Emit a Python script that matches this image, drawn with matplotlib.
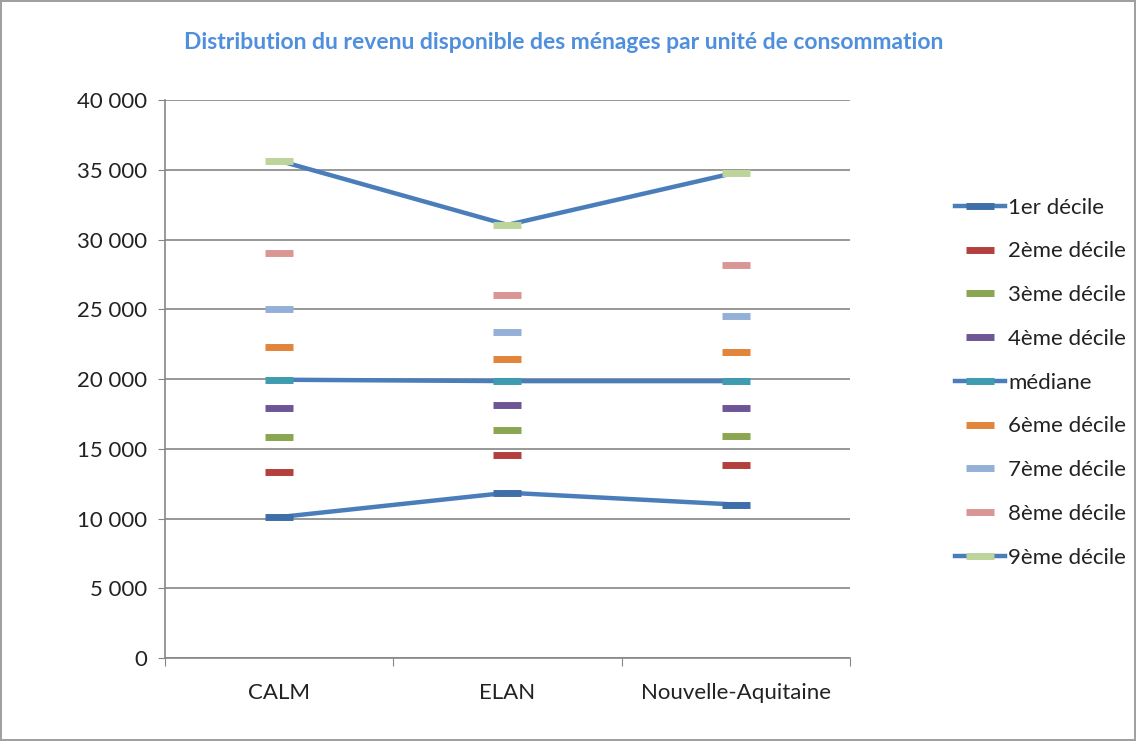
import matplotlib.pyplot as plt
from matplotlib.ticker import FuncFormatter

categories = ["CALM", "ELAN", "Nouvelle-Aquitaine"]
labels = ["1er décile", "2ème décile", "3ème décile", "4ème décile", "médiane",
          "6ème décile", "7ème décile", "8ème décile", "9ème décile"]
d1 = [10100, 11850, 11000]
d2 = [13300, 14550, 13850]
d3 = [15850, 16350, 15950]
d4 = [17950, 18150, 17950]
med = [19950, 19850, 19850]
d6 = [22300, 21450, 21950]
d7 = [25050, 23350, 24500]
d8 = [29000, 26000, 28150]
d9 = [35650, 31050, 34800]
series = [d1, d2, d3, d4, med, d6, d7, d8, d9]
marker_colors = ["#3F6FA8", "#B3403D", "#8AA650", "#6E5696", "#3E9BB0",
                 "#E2843A", "#95B0D8", "#D99694", "#BDD59A"]
with_line = [True, False, False, False, True, False, False, False, True]
line_color = "#4A7EBB"

plt.rcParams['font.family'] = ['Lato', 'DejaVu Sans']

fig = plt.figure(figsize=(11.36, 7.41), dpi=100)
fig.patch.set_edgecolor("#A0A0A0")
fig.patch.set_linewidth(1.5)
ax = fig.add_axes([0.1452, 0.112, 0.603, 0.753])

x = [0.5, 1.5, 2.5]
for vals, lab, mc, ln in zip(series, labels, marker_colors, with_line):
    ax.plot(x, vals, color=line_color if ln else "none", lw=3.2,
            marker="_", markersize=20, markeredgewidth=5,
            markeredgecolor=mc, label=lab, zorder=3)

ax.set_xlim(0, 3)
ax.set_ylim(0, 40000)
ax.set_yticks(range(0, 40001, 5000))
ax.yaxis.set_major_formatter(FuncFormatter(lambda v, p: f"{int(v):,}".replace(",", " ")))
ax.set_xticks([0, 1, 2, 3])
ax.set_xticklabels([])
ax.set_xticks(x, minor=True)
ax.set_xticklabels(categories, minor=True)
ax.tick_params(axis="x", which="minor", length=0, pad=18, labelsize=16, colors="#222222")
ax.tick_params(axis="x", which="major", length=6, color="#868686")
ax.tick_params(axis="y", length=5, color="#868686", labelsize=16, colors="#222222", pad=8)

ax.grid(axis="y", color="#868686", lw=1.2)
ax.set_axisbelow(True)
for s in ["top", "right"]:
    ax.spines[s].set_visible(False)
for s in ["left", "bottom"]:
    ax.spines[s].set_color("#868686")
    ax.spines[s].set_linewidth(1.2)

ax.legend(loc="upper left", bbox_to_anchor=(1.124, 0.861), frameon=False,
          fontsize=16, handlelength=2.25, labelspacing=1.07, handletextpad=0.15,
          labelcolor="#222222")

fig.text(0.496, 0.943, "Distribution du revenu disponible des ménages par unité de consommation",
         ha="center", va="center", fontsize=16.5, color="#4F8FDD", fontweight="bold")

fig.savefig("out.png", dpi=100)
